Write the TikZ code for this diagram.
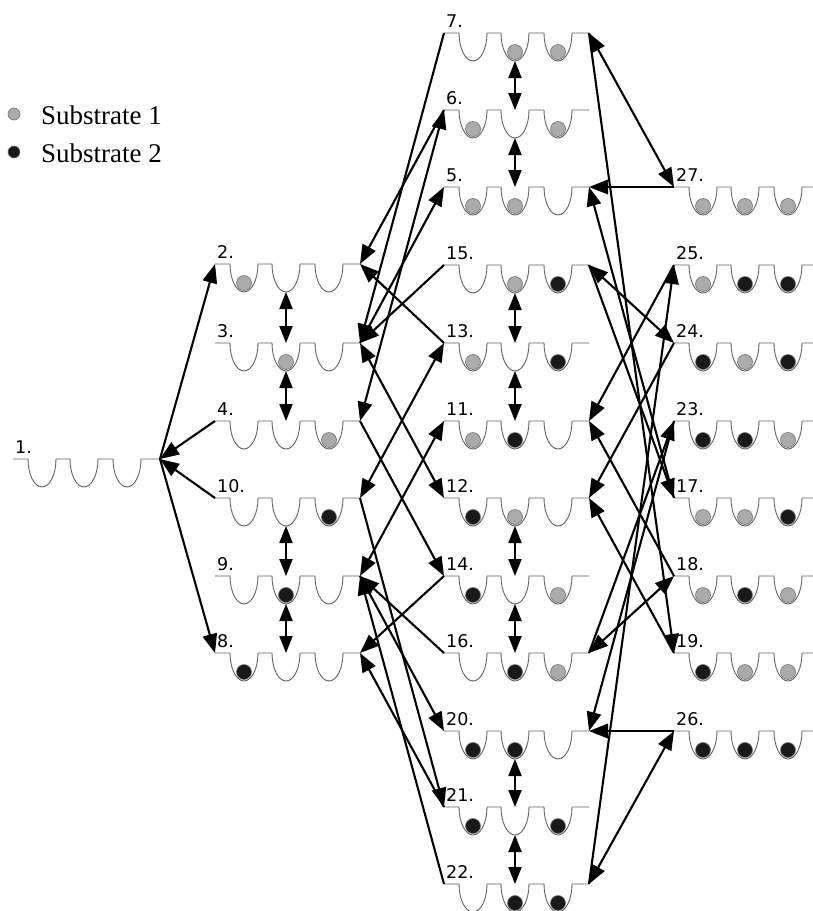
\documentclass[tikz,border=0pt]{standalone}
\usepackage{fontspec}
\setmainfont{Liberation Serif}
\newfontfamily\lblfont{DejaVu Sans}
\usetikzlibrary{arrows.meta}
\tikzset{
  stateline/.style={draw=black!62, line width=0.9pt},
  ballA/.style={fill=black!33, draw=black!55, line width=0.6pt},
  ballB/.style={fill=black!90, draw=black!55, line width=0.6pt},
  conn/.style={line width=2.1pt, -{Triangle[length=19pt,width=14.5pt]}},
  conntwo/.style={line width=2.1pt, {Triangle[length=19pt,width=14.5pt]}-{Triangle[length=19pt,width=14.5pt]}},
  hop/.style={line width=1.9pt, {Triangle[length=17pt,width=13pt]}-{Triangle[length=17pt,width=13pt]}},
  lbl/.style={font=\lblfont\fontsize{17.5}{18}\selectfont, anchor=south west, inner sep=0pt},
  legend/.style={font=\fontsize{27}{27}\selectfont, anchor=base west, inner sep=0pt},
}
\newcommand\siten[2]{}
\newcommand\siteg[2]{\draw[ballA] (#1,#2) circle[radius=7.5pt];}
\newcommand\siteb[2]{\draw[ballB] (#1,#2) circle[radius=7.5pt];}
% #1 name, #2 x0, #3 y, #4 s1, #5 s2, #6 s3, #7 right end offset
\newcommand\mystate[7]{%
  \coordinate (#1L) at (#2,#3);
  \coordinate (#1R) at (#2+#7,#3);
  \coordinate (#1T) at (#2+71,#3);
  \coordinate (#1B) at (#2+71,#3+28);
  \draw[stateline] (#1L) -- ++(15,0)
     arc[start angle=180,end angle=360,x radius=14pt,y radius=28pt] -- ++(14,0)
     arc[start angle=180,end angle=360,x radius=14pt,y radius=28pt] -- ++(15,0)
     arc[start angle=180,end angle=360,x radius=14pt,y radius=28pt] -- (#1R);
  \node[lbl] (lbl#1) at (#2+2,#3-5) {#1.};
  \csname site#4\endcsname{#2+29}{#3+19}
  \csname site#5\endcsname{#2+71}{#3+19}
  \csname site#6\endcsname{#2+114}{#3+19}
}
\begin{document}
\begin{tikzpicture}[x=1pt,y=-1pt]
\useasboundingbox (0,0) rectangle (812,911);
% legend
\draw[ballA] (14,114) circle[radius=6pt];
\draw[ballB] (14,152) circle[radius=6pt];
\node[legend] (leg1) at (41,124) {Substrate 1};
\node[legend] (leg2) at (41,162) {Substrate 2};
% column A
\mystate{1}{13}{459}{n}{n}{n}{147}
% column B
\mystate{2}{215}{264}{g}{n}{n}{145}
\mystate{3}{215}{343}{n}{g}{n}{145}
\mystate{4}{215}{421}{n}{n}{g}{145}
\mystate{10}{215}{498}{n}{n}{b}{145}
\mystate{9}{215}{576}{n}{b}{n}{145}
\mystate{8}{215}{653}{b}{n}{n}{145}
% column C
\mystate{7}{444}{33}{n}{g}{g}{145}
\mystate{6}{444}{110}{g}{n}{g}{145}
\mystate{5}{444}{187}{g}{g}{n}{145}
\mystate{15}{444}{265}{n}{g}{b}{145}
\mystate{13}{444}{343}{g}{n}{b}{145}
\mystate{11}{444}{421}{g}{b}{n}{145}
\mystate{12}{444}{498}{b}{g}{n}{145}
\mystate{14}{444}{576}{b}{n}{g}{145}
\mystate{16}{444}{653}{n}{b}{g}{145}
\mystate{20}{444}{731}{b}{b}{n}{145}
\mystate{21}{444}{807}{b}{n}{b}{145}
\mystate{22}{444}{884}{n}{b}{b}{145}
% column D
\mystate{27}{674}{187}{g}{g}{g}{140}
\mystate{25}{674}{265}{g}{b}{b}{140}
\mystate{24}{674}{343}{b}{g}{b}{140}
\mystate{23}{674}{421}{b}{b}{g}{140}
\mystate{17}{674}{498}{g}{g}{b}{140}
\mystate{18}{674}{576}{g}{b}{g}{140}
\mystate{19}{674}{653}{b}{g}{g}{140}
\mystate{26}{674}{731}{b}{b}{b}{140}
% hops
\draw[hop] (2B) -- (3T);
\draw[hop] (3B) -- (4T);
\draw[hop] (10B) -- (9T);
\draw[hop] (9B) -- (8T);
\draw[hop] (7B) -- (6T);
\draw[hop] (6B) -- (5T);
\draw[hop] (15B) -- (13T);
\draw[hop] (13B) -- (11T);
\draw[hop] (12B) -- (14T);
\draw[hop] (14B) -- (16T);
\draw[hop] (20B) -- (21T);
\draw[hop] (21B) -- (22T);
% A-B
\draw[conn] (1R) -- (2L);
\draw[conn] (4L) -- (1R);
\draw[conn] (10L) -- (1R);
\draw[conn] (1R) -- (8L);
% B-C
\draw[conn] (6L) -- (2R);
\draw[conn] (13L) -- (2R);
\draw[conn] (3R) -- (5L);
\draw[conntwo] (3R) -- (12L);
\draw[conn] (7L) -- (3R);
\draw[conn] (15L) -- (3R);
\draw[conntwo] (4R) -- (6L);
\draw[conn] (4R) -- (14L);
\draw[conntwo] (10R) -- (13L);
\draw[conn] (10R) -- (21L);
\draw[conntwo] (9R) -- (11L);
\draw[conn] (9R) -- (20L);
\draw[conn] (16L) -- (9R);
\draw[conn] (22L) -- (9R);
\draw[conn] (14L) -- (8R);
\draw[conn] (21L) -- (8R);
% C-D
\draw[conntwo] (7R) -- (27L);
\draw[conn] (7R) -- (19L);
\draw[conn] (27L) -- (5R);
\draw[conn] (17L) -- (5R);
\draw[conn] (15R) -- (17L);
\draw[conntwo] (15R) -- (24L);
\draw[conn] (18L) -- (11R);
\draw[conn] (25L) -- (11R);
\draw[conn] (19L) -- (12R);
\draw[conn] (24L) -- (12R);
\draw[conntwo] (16R) -- (18L);
\draw[conn] (16R) -- (23L);
\draw[conn] (23L) -- (20R);
\draw[conn] (26L) -- (20R);
\draw[conn] (22R) -- (25L);
\draw[conntwo] (22R) -- (26L);
\end{tikzpicture}
\end{document}
